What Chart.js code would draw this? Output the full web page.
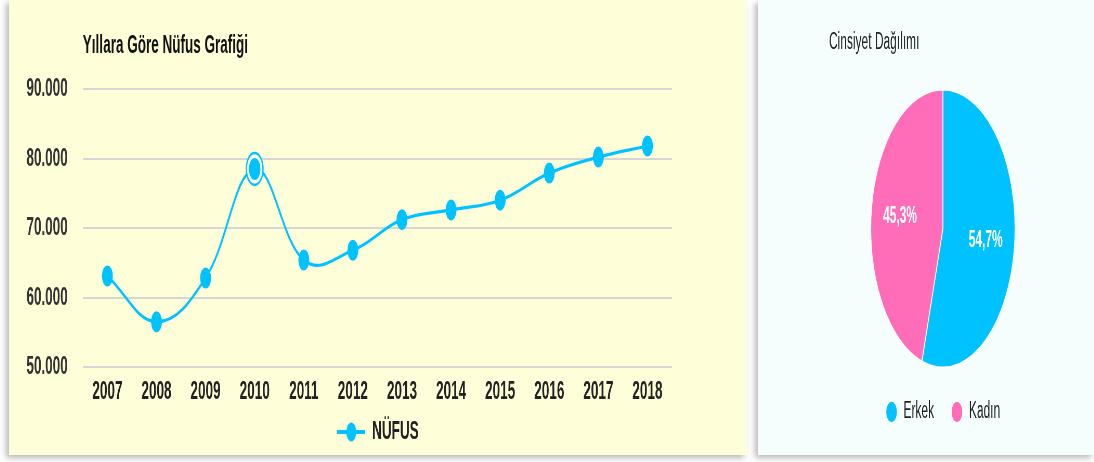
<!DOCTYPE html>
<html>
<head>
<meta charset="utf-8">
<script src="https://cdn.jsdelivr.net/npm/chart.js@4.4.1/dist/chart.umd.min.js"></script>
<style>
  html, body { margin: 0; padding: 0; background: #fff; width: 1094px; height: 462px; overflow: hidden; }
  body { font-family: "Liberation Sans", Arial, sans-serif; }
  .panel { position: absolute; top: 0; height: 455px; overflow: hidden; }
  #left { left: 9px; width: 738px; background: #fefed8; box-shadow: -3px 3px 6px rgba(0,0,0,0.28); }
  #right { left: 758px; width: 336px; background: #f6fdfd; box-shadow: -3px 3px 6px rgba(0,0,0,0.28); }
  /* the reference is squeezed horizontally, so draw wide and squeeze */
  .squeeze { position: absolute; top: 0; transform: scaleX(0.52); transform-origin: 0 0; }
  #leftTitle { position: absolute; left: 142px; top: 29px; font-size: 26px; font-weight: bold; line-height: 31px; color: #111; white-space: nowrap; }
</style>
</head>
<body>
<div class="panel" id="left">
  <div class="squeeze" style="left:0;width:1419px;height:455px;">
    <div id="leftTitle">Yıllara Göre Nüfus Grafiği</div>
    <canvas id="nufusChart" width="1419" height="455"></canvas>
  </div>
</div>
<div class="panel" id="right">
  <div class="squeeze" style="left:71px;width:438px;height:455px;">
    <canvas id="cinsiyetChart" width="438" height="455"></canvas>
  </div>
</div>
<script>
const years = ["2007", "2008", "2009", "2010", "2011", "2012", "2013", "2014", "2015", "2016", "2017", "2018"];
const nufus = [63100, 56500, 62800, 78500, 65400, 66800, 71200, 72600, 74000, 77900, 80200, 81800];
const yMin = 50000;
const yMax = 90000;
const yStep = 10000;
const highlightYear = "2010";

const genders = ["Erkek", "Kadın"];
const genderShare = [54.7, 45.3];
const genderText = ["54,7%", "45,3%"];

const BLUE = "#00c2ff";
const PINK = "#ff6db8";

Chart.defaults.font.family = "'Liberation Sans', Arial, sans-serif";
Chart.defaults.animation = false;

function dotted(v) {
  return String(v).replace(/\B(?=(\d{3})+(?!\d))/g, ".");
}

const hi = years.indexOf(highlightYear);

// legend icon: line with a dot in the middle
const icon = document.createElement("canvas");
icon.width = 54;
icon.height = 24;
const ic = icon.getContext("2d");
ic.strokeStyle = BLUE;
ic.lineWidth = 4;
ic.beginPath();
ic.moveTo(0, 12);
ic.lineTo(54, 12);
ic.stroke();
ic.fillStyle = BLUE;
ic.beginPath();
ic.arc(27, 12, 9.5, 0, Math.PI * 2);
ic.fill();

const ringPlugin = {
  id: "ring",
  afterDatasetsDraw(chart) {
    const pt = chart.getDatasetMeta(0).data[hi];
    if (!pt) return;
    const c = chart.ctx;
    c.save();
    c.strokeStyle = BLUE;
    c.lineWidth = 2.5;
    c.beginPath();
    c.arc(pt.x, pt.y, 16, 0, Math.PI * 2);
    c.stroke();
    c.restore();
  }
};

new Chart(document.getElementById("nufusChart"), {
  type: "line",
  data: {
    labels: years,
    datasets: [{
      label: "NÜFUS",
      data: nufus,
      borderColor: BLUE,
      borderWidth: 3.2,
      tension: 0.4,
      fill: false,
      pointRadius: ctx => ctx.dataIndex === hi ? 13 : 10.5,
      pointBackgroundColor: BLUE,
      pointBorderColor: ctx => ctx.dataIndex === hi ? "#fff" : BLUE,
      pointBorderWidth: ctx => ctx.dataIndex === hi ? 4 : 0
    }]
  },
  options: {
    responsive: false,
    events: [],
    layout: { padding: { top: 89, right: 0, bottom: 0, left: 0 } },
    scales: {
      y: {
        min: yMin,
        max: yMax,
        afterFit: axis => { axis.width = 142; },
        ticks: {
          stepSize: yStep,
          padding: 29,
          color: "#333",
          font: { size: 26, weight: "bold" },
          callback: v => dotted(v)
        },
        grid: { color: "#d6d6d6", lineWidth: 2, drawTicks: false },
        border: { display: false }
      },
      // empty right-hand strip so the legend centres under the plot
      spacer: {
        position: "right",
        afterFit: axis => { axis.width = 144; },
        ticks: { display: false },
        grid: { display: false, drawTicks: false },
        border: { display: false }
      },
      x: {
        offset: true,
        afterFit: axis => { axis.height = 40.6; },
        ticks: { padding: 9.4, color: "#222", font: { size: 26, weight: "bold" } },
        grid: { display: false, drawTicks: false },
        border: { display: false }
      }
    },
    plugins: {
      tooltip: { enabled: false },
      legend: {
        position: "bottom",
        labels: {
          usePointStyle: true,
          pointStyle: icon,
          pointStyleWidth: 54,
          padding: 11.4,
          color: "#222",
          font: { size: 26, weight: "bold" }
        }
      }
    }
  },
  plugins: [ringPlugin]
});

const pieLabelPlugin = {
  id: "pieLabels",
  afterDatasetsDraw(chart) {
    const c = chart.ctx;
    c.save();
    c.fillStyle = "#fff";
    c.font = "bold 23px 'Liberation Sans', Arial, sans-serif";
    c.textAlign = "center";
    c.textBaseline = "middle";
    chart.getDatasetMeta(0).data.forEach((arc, i) => {
      const p = arc.getProps(["x", "y", "startAngle", "endAngle", "outerRadius"]);
      const mid = (p.startAngle + p.endAngle) / 2;
      const r = p.outerRadius * 0.6;
      c.fillText(genderText[i], p.x + Math.cos(mid) * r, p.y + Math.sin(mid) * r);
    });
    c.restore();
  }
};

new Chart(document.getElementById("cinsiyetChart"), {
  type: "pie",
  data: {
    labels: genders,
    datasets: [{
      data: genderShare,
      backgroundColor: [BLUE, PINK],
      borderColor: "#fff",
      borderWidth: 1.5,
      hoverOffset: 0
    }]
  },
  options: {
    responsive: false,
    events: [],
    layout: { padding: { top: 0, right: 0, bottom: 21.5, left: 0 } },
    plugins: {
      tooltip: { enabled: false },
      title: {
        display: true,
        text: "Cinsiyet Dağılımı",
        align: "start",
        color: "#222",
        font: { size: 23, weight: "normal" },
        padding: { top: 29, bottom: 32.4 }
      },
      legend: {
        position: "bottom",
        labels: {
          usePointStyle: true,
          pointStyle: "circle",
          boxHeight: 15.5,
          padding: 32.5,
          color: "#222",
          font: { size: 23 }
        }
      }
    }
  },
  plugins: [pieLabelPlugin]
});
</script>
</body>
</html>
